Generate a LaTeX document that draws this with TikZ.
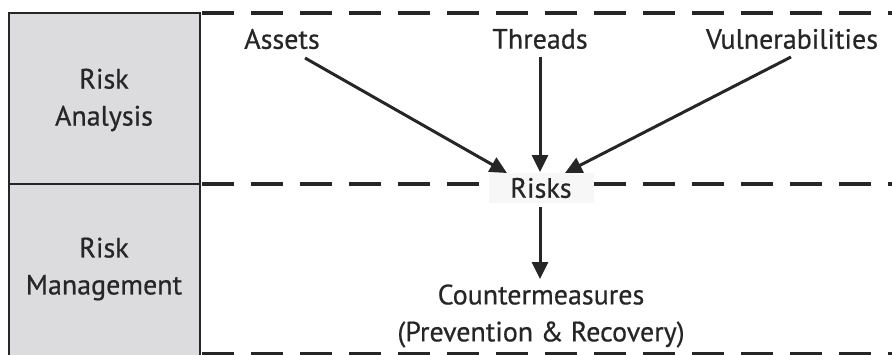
\documentclass[tikz,border=0pt]{standalone}
\usepackage{fontspec}
\setmainfont[FakeBold=0.6]{PT Sans}
\usetikzlibrary{arrows.meta}
\definecolor{boxgray}{HTML}{DCDCDE}
\definecolor{ink}{HTML}{262626}
\tikzset{
  px/.style={x=1pt,y=-1pt},
  lbl/.style={font=\fontsize{28}{37}\selectfont, text=ink, inner sep=0pt, align=center},
  sidebox/.style={draw=ink, line width=2.8pt, fill=boxgray},
  dashline/.style={draw=ink, line width=3.2pt, dash pattern=on 32pt off 17pt},
  arr/.style={draw=ink, line width=3pt, -{Triangle[length=17pt,width=16pt]}},
  riskbg/.style={fill=black!3, minimum width=105pt, minimum height=30pt}
}
\begin{document}
\begin{tikzpicture}[px]
\useasboundingbox (0,0) rectangle (892,354);
% dashed lines
\coordinate (t0) at (202,13); \coordinate (t1) at (892,13);
\coordinate (m0) at (202,184); \coordinate (m1) at (892,184);
\coordinate (b0) at (202,354); \coordinate (b1) at (892,354);
\draw[dashline] (t0) -- (t1);
\draw[dashline] (m0) -- (m1);
\draw[dashline] (b0) -- (b1);
% side boxes
\draw[sidebox] (9,13) rectangle (200,184);
\draw[sidebox] (9,184) rectangle (200,362);
\node[lbl] (ra) at (104,100) {Risk\\Analysis};
\node[lbl] (rm) at (104,269) {Risk\\Management};
% nodes
\node[lbl] (assets) at (282,39) {Assets};
\node[lbl] (threads) at (540,39) {Threads};
\node[lbl] (vuln) at (792,39) {Vulnerabilities};
\node[riskbg] (riskbox) at (541,188) {};
\node[lbl] (risks) at (541,188) {Risks};
\node[lbl] (counter) at (541,316) {Countermeasures\\(Prevention \& Recovery)};
% arrows
\coordinate (aS) at (305,58); \coordinate (aE) at (507,173);
\coordinate (tS) at (540,57); \coordinate (tE) at (540,172);
\coordinate (vS) at (791,57); \coordinate (vE) at (565,173);
\coordinate (rS) at (540,207); \coordinate (rE) at (540,279);
\draw[arr] (aS) -- (aE);
\draw[arr] (tS) -- (tE);
\draw[arr] (vS) -- (vE);
\draw[arr] (rS) -- (rE);
\end{tikzpicture}
\end{document}
